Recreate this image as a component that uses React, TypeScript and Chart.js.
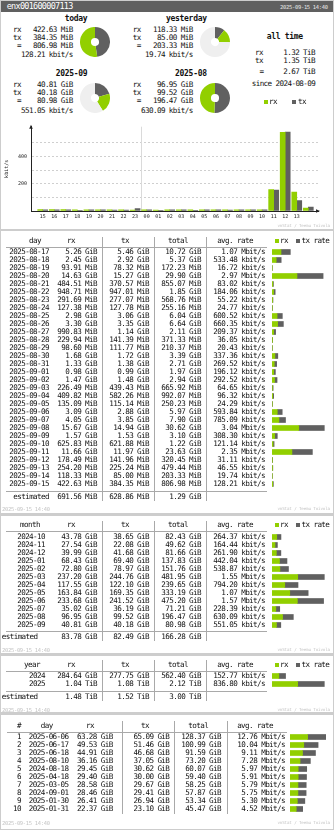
import React, { useEffect, useRef } from 'react';
import { Chart, registerables } from 'chart.js';
Chart.register(...registerables);

const RX_COLOR = '#92cf00';
const TX_COLOR = '#606060';
const REST_COLOR = '#efefef';
const TEXT = '#111111';
const LINE = '#a9a9a9';
const FAINT = '#c4c4c4';
const MONO = '"DejaVu Sans Mono", monospace';

const IFACE_NAME = 'enx001600007113';
const STAMP = '2025-09-15 14:40';
const CREDIT = 'vnStat / Teemu Toivola';

// ---- summary ----
const sumTitles = ['today', 'yesterday', '2025-09', '2025-08'];
const sumRx = ['422.63 MiB', '118.33 MiB', '40.81 GiB', '96.95 GiB'];
const sumTx = ['384.35 MiB', '85.00 MiB', '40.18 GiB', '99.52 GiB'];
const sumTotal = ['806.98 MiB', '203.33 MiB', '80.98 GiB', '196.47 GiB'];
const sumRate = ['128.21 kbit/s', '19.74 kbit/s', '551.05 kbit/s', '630.09 kbit/s'];
const allTimeRx = '1.32 TiB';
const allTimeTx = '1.35 TiB';
const allTimeTotal = '2.67 TiB';
const allTimeSince = '2024-08-09';

// ---- hourly (kbit/s) ----
const hourLabels = ['15', '16', '17', '18', '19', '20', '21', '22', '23', '00', '01', '02', '03', '04', '05', '06', '07', '08', '09', '10', '11', '12', '13', '14'];
const hourRx = [10, 10, 10, 9, 9, 9, 8, 8, 7, 9, 7, 9, 9, 8, 9, 9, 8, 9, 9, 9, 157, 575, 139, 22];
const hourTx = [9, 8, 8, 5, 8, 8, 7, 7, 17, 8, 5, 8, 8, 5, 8, 8, 7, 8, 8, 8, 153, 577, 76, 29];

// ---- daily ----
const dayDates = ['2025-08-17', '2025-08-18', '2025-08-19', '2025-08-20', '2025-08-21', '2025-08-22', '2025-08-23', '2025-08-24', '2025-08-25', '2025-08-26', '2025-08-27', '2025-08-28', '2025-08-29', '2025-08-30', '2025-08-31', '2025-09-01', '2025-09-02', '2025-09-03', '2025-09-04', '2025-09-05', '2025-09-06', '2025-09-07', '2025-09-08', '2025-09-09', '2025-09-10', '2025-09-11', '2025-09-12', '2025-09-13', '2025-09-14', '2025-09-15'];
const dayRx = ['5.26 GiB', '2.45 GiB', '93.91 MiB', '14.63 GiB', '484.51 MiB', '948.71 MiB', '291.69 MiB', '127.38 MiB', '2.98 GiB', '3.30 GiB', '990.83 MiB', '229.94 MiB', '98.60 MiB', '1.68 GiB', '1.33 GiB', '0.98 GiB', '1.47 GiB', '226.49 MiB', '409.82 MiB', '135.09 MiB', '3.09 GiB', '4.05 GiB', '15.67 GiB', '1.57 GiB', '625.83 MiB', '11.66 GiB', '178.49 MiB', '254.20 MiB', '118.33 MiB', '422.63 MiB'];
const dayTx = ['5.46 GiB', '2.92 GiB', '78.32 MiB', '15.27 GiB', '370.57 MiB', '947.01 MiB', '277.07 MiB', '127.78 MiB', '3.06 GiB', '3.35 GiB', '1.14 GiB', '141.39 MiB', '111.77 MiB', '1.72 GiB', '1.38 GiB', '0.99 GiB', '1.48 GiB', '439.43 MiB', '582.26 MiB', '115.14 MiB', '2.88 GiB', '3.85 GiB', '14.94 GiB', '1.53 GiB', '621.88 MiB', '11.97 GiB', '141.96 MiB', '225.24 MiB', '85.00 MiB', '384.35 MiB'];
const dayTotal = ['10.72 GiB', '5.37 GiB', '172.23 MiB', '29.90 GiB', '855.07 MiB', '1.85 GiB', '568.76 MiB', '255.16 MiB', '6.04 GiB', '6.64 GiB', '2.11 GiB', '371.33 MiB', '210.37 MiB', '3.39 GiB', '2.71 GiB', '1.97 GiB', '2.94 GiB', '665.92 MiB', '992.07 MiB', '250.23 MiB', '5.97 GiB', '7.90 GiB', '30.62 GiB', '3.10 GiB', '1.22 GiB', '23.63 GiB', '320.45 MiB', '479.44 MiB', '203.33 MiB', '806.98 MiB'];
const dayRate = ['1.07 Mbit/s', '533.48 kbit/s', '16.72 kbit/s', '2.97 Mbit/s', '83.02 kbit/s', '184.06 kbit/s', '55.22 kbit/s', '24.77 kbit/s', '600.52 kbit/s', '660.35 kbit/s', '209.37 kbit/s', '36.05 kbit/s', '20.43 kbit/s', '337.36 kbit/s', '269.52 kbit/s', '196.12 kbit/s', '292.52 kbit/s', '64.65 kbit/s', '96.32 kbit/s', '24.29 kbit/s', '593.84 kbit/s', '785.09 kbit/s', '3.04 Mbit/s', '308.30 kbit/s', '121.14 kbit/s', '2.35 Mbit/s', '31.11 kbit/s', '46.55 kbit/s', '19.74 kbit/s', '128.21 kbit/s'];
const dayEstimate = ['691.56 MiB', '628.86 MiB', '1.29 GiB'];

// ---- monthly ----
const monthLabels = ['2024-10', '2024-11', '2024-12', '2025-01', '2025-02', '2025-03', '2025-04', '2025-05', '2025-06', '2025-07', '2025-08', '2025-09'];
const monthRx = ['43.78 GiB', '27.54 GiB', '39.99 GiB', '68.43 GiB', '72.80 GiB', '237.20 GiB', '117.55 GiB', '163.84 GiB', '233.68 GiB', '35.02 GiB', '96.95 GiB', '40.81 GiB'];
const monthTx = ['38.65 GiB', '22.08 GiB', '41.68 GiB', '69.40 GiB', '78.97 GiB', '244.76 GiB', '122.10 GiB', '169.35 GiB', '241.52 GiB', '36.19 GiB', '99.52 GiB', '40.18 GiB'];
const monthTotal = ['82.43 GiB', '49.62 GiB', '81.66 GiB', '137.83 GiB', '151.76 GiB', '481.95 GiB', '239.65 GiB', '333.19 GiB', '475.20 GiB', '71.21 GiB', '196.47 GiB', '80.98 GiB'];
const monthRate = ['264.37 kbit/s', '164.44 kbit/s', '261.90 kbit/s', '442.04 kbit/s', '538.87 kbit/s', '1.55 Mbit/s', '794.20 kbit/s', '1.07 Mbit/s', '1.57 Mbit/s', '228.39 kbit/s', '630.09 kbit/s', '551.05 kbit/s'];
const monthEstimate = ['83.78 GiB', '82.49 GiB', '166.28 GiB'];

// ---- yearly ----
const yearLabels = ['2024', '2025'];
const yearRx = ['284.64 GiB', '1.04 TiB'];
const yearTx = ['277.75 GiB', '1.08 TiB'];
const yearTotal = ['562.40 GiB', '2.12 TiB'];
const yearRate = ['152.77 kbit/s', '836.80 kbit/s'];
const yearEstimate = ['1.48 TiB', '1.52 TiB', '3.00 TiB'];

// ---- top 10 ----
const topRank = ['1', '2', '3', '4', '5', '6', '7', '8', '9', '10'];
const topDays = ['2025-06-06', '2025-06-17', '2025-06-18', '2025-08-10', '2024-08-18', '2025-04-18', '2025-03-05', '2024-09-01', '2025-01-30', '2025-01-31'];
const topRx = ['63.28 GiB', '49.53 GiB', '44.91 GiB', '36.16 GiB', '29.45 GiB', '29.40 GiB', '28.58 GiB', '28.46 GiB', '26.41 GiB', '22.37 GiB'];
const topTx = ['65.09 GiB', '51.46 GiB', '46.68 GiB', '37.05 GiB', '30.62 GiB', '30.00 GiB', '29.67 GiB', '29.41 GiB', '26.94 GiB', '23.10 GiB'];
const topTotal = ['128.37 GiB', '100.99 GiB', '91.59 GiB', '73.20 GiB', '60.07 GiB', '59.40 GiB', '58.25 GiB', '57.87 GiB', '53.34 GiB', '45.47 GiB'];
const topRate = ['12.76 Mbit/s', '10.04 Mbit/s', '9.11 Mbit/s', '7.28 Mbit/s', '5.97 Mbit/s', '5.91 Mbit/s', '5.79 Mbit/s', '5.75 Mbit/s', '5.30 Mbit/s', '4.52 Mbit/s'];

const UNIT: Record<string, number> = { KiB: 1 / 1024, MiB: 1, GiB: 1024, TiB: 1024 * 1024 };
const toMiB = (s: string) => {
  const [n, u] = s.split(' ');
  return parseFloat(n) * (UNIT[u] || 1);
};

const FONTS: Record<string, React.CSSProperties> = {
  body: { fontFamily: MONO, fontSize: '7.6px', letterSpacing: '-0.6px', fontWeight: 400 },
  bold: { fontFamily: MONO, fontSize: '8px', letterSpacing: '-0.3px', fontWeight: 700 },
  head: { fontFamily: MONO, fontSize: '8.5px', letterSpacing: '-0.72px', fontWeight: 400 },
  small: { fontFamily: MONO, fontSize: '5.4px', letterSpacing: '-0.27px', fontWeight: 400 },
  tiny: { fontFamily: MONO, fontSize: '4.2px', letterSpacing: '-0.13px', fontWeight: 400 },
};

function Txt(p: { x: number; y: number; s: string; a?: 'l' | 'r' | 'c'; f?: string; c?: string }) {
  const a = p.a || 'l';
  const tr = a === 'r' ? 'translateX(-100%)' : a === 'c' ? 'translateX(-50%)' : 'none';
  return (
    <div
      style={{
        position: 'absolute', left: p.x, top: p.y - 5, height: 10, lineHeight: '10px',
        whiteSpace: 'pre', color: p.c || TEXT, transform: tr, ...FONTS[p.f || 'body'],
      }}
    >
      {p.s}
    </div>
  );
}

function Rect(p: { x: number; y: number; w: number; h: number; bg: string }) {
  return <div style={{ position: 'absolute', left: p.x, top: p.y, width: p.w, height: p.h, background: p.bg }} />;
}

function Pie(p: { cx: number; cy: number; r: number; rx: number; tx: number; rest: number }) {
  const ref = useRef<HTMLCanvasElement>(null);
  useEffect(() => {
    const ch = new Chart(ref.current as HTMLCanvasElement, {
      type: 'doughnut',
      data: {
        labels: ['tx', 'rx', 'rest'],
        datasets: [{
          data: [p.tx, p.rx, Math.max(p.rest, 0)],
          backgroundColor: [TX_COLOR, RX_COLOR, REST_COLOR],
          borderWidth: 0, hoverOffset: 0,
        }],
      },
      options: {
        responsive: false, animation: false, devicePixelRatio: 1, events: [],
        cutout: '27%',
        layout: { padding: 0 },
        plugins: { legend: { display: false }, tooltip: { enabled: false } },
      },
    });
    return () => ch.destroy();
  }, []);
  const d = p.r * 2;
  return <canvas ref={ref} width={d} height={d} style={{ position: 'absolute', left: p.cx - p.r, top: p.cy - p.r, width: d, height: d }} />;
}

const hourDecor = {
  id: 'hourDecor',
  beforeDatasetsDraw(chart: any) {
    const { ctx, chartArea, scales } = chart;
    const idx = hourLabels.indexOf('00');
    const px = Math.round(scales.x.getPixelForValue(idx - 0.5)) + 0.5;
    ctx.save();
    ctx.strokeStyle = '#dadada';
    ctx.lineWidth = 1;
    ctx.beginPath();
    ctx.moveTo(px, chartArea.top);
    ctx.lineTo(px, chartArea.bottom);
    ctx.stroke();
    ctx.restore();
  },
  afterDraw(chart: any) {
    const { ctx, chartArea } = chart;
    ctx.save();
    ctx.fillStyle = '#222';
    const l = chartArea.left, t = chartArea.top, r = chartArea.right, b = chartArea.bottom;
    ctx.beginPath();
    ctx.moveTo(l, t - 2); ctx.lineTo(l - 1.8, t + 2); ctx.lineTo(l + 1.8, t + 2); ctx.closePath(); ctx.fill();
    ctx.beginPath();
    ctx.moveTo(r + 2, b); ctx.lineTo(r - 2, b - 1.8); ctx.lineTo(r - 2, b + 1.8); ctx.closePath(); ctx.fill();
    ctx.restore();
  },
};

function HourlyChart(p: { x: number; y: number; w: number; h: number }) {
  const ref = useRef<HTMLCanvasElement>(null);
  useEffect(() => {
    const tickFont = { family: 'DejaVu Sans Mono', size: 5 };
    const ch = new Chart(ref.current as HTMLCanvasElement, {
      type: 'bar',
      data: {
        datasets: [
          { label: 'rx', data: hourRx.map((v, i) => ({ x: i, y: v })), backgroundColor: RX_COLOR, barThickness: 5 } as any,
          { label: 'tx', data: hourTx.map((v, i) => ({ x: i, y: v })), backgroundColor: TX_COLOR, barThickness: 5 } as any,
        ],
      },
      options: {
        responsive: false, animation: false, devicePixelRatio: 1, events: [],
        layout: { padding: { top: 8.7, right: 16, left: 0, bottom: 0 } },
        plugins: { legend: { display: false }, tooltip: { enabled: false } },
        scales: {
          x: {
            type: 'linear', min: -1.013, max: 23.84, offset: false,
            grid: { display: false, drawTicks: false },
            border: { color: '#222', width: 1 },
            ticks: {
              stepSize: 1, autoSkip: false, maxRotation: 0, padding: 3, color: '#222', font: tickFont,
              callback: (v: any) => (Number.isInteger(v) && v >= 0 && v < hourLabels.length ? hourLabels[v] : ''),
            },
            afterFit: (s: any) => { s.height = 14; },
          },
          y: {
            type: 'linear', min: 0, max: 617,
            grid: {
              drawTicks: false,
              color: (c: any) => (c.tick && c.tick.value > 0 && c.tick.value < 600 ? '#cfcfcf' : 'rgba(0,0,0,0)'),
            },
            border: { color: '#222', width: 1, dash: [2, 2] },
            ticks: {
              stepSize: 100, padding: 4, color: '#222', font: tickFont,
              callback: (v: any) => (v > 0 && v < 600 && v % 200 === 0 ? String(v) : ''),
            },
            title: { display: true, text: 'kbit/s', color: '#222', font: tickFont, padding: { top: 4, bottom: 0 } },
            afterFit: (s: any) => { s.width = 31; },
          },
        },
      } as any,
      plugins: [hourDecor],
    });
    return () => ch.destroy();
  }, []);
  return <canvas ref={ref} width={p.w} height={p.h} style={{ position: 'absolute', left: p.x, top: p.y, width: p.w, height: p.h }} />;
}

function RateBars(p: { x: number; y: number; w: number; step: number; full: number; labels: string[]; rx: string[]; tx: string[] }) {
  const ref = useRef<HTMLCanvasElement>(null);
  const h = p.labels.length * p.step;
  useEffect(() => {
    const rx = p.rx.map(toMiB);
    const tx = p.tx.map(toMiB);
    const maxTotal = Math.max(...rx.map((v, i) => v + tx[i]));
    const ch = new Chart(ref.current as HTMLCanvasElement, {
      type: 'bar',
      data: {
        labels: p.labels,
        datasets: [
          { label: 'rx', data: rx, backgroundColor: RX_COLOR, barThickness: 5 } as any,
          { label: 'tx', data: tx, backgroundColor: TX_COLOR, barThickness: 5 } as any,
        ],
      },
      options: {
        indexAxis: 'y',
        responsive: false, animation: false, devicePixelRatio: 1, events: [],
        layout: { padding: 0 },
        plugins: { legend: { display: false }, tooltip: { enabled: false } },
        scales: {
          x: { type: 'linear', stacked: true, display: false, min: 0, max: (maxTotal * p.w) / p.full },
          y: { type: 'category', stacked: true, display: false, offset: true },
        },
      } as any,
    });
    return () => ch.destroy();
  }, []);
  return <canvas ref={ref} width={p.w} height={h} style={{ position: 'absolute', left: p.x, top: p.y, width: p.w, height: h }} />;
}

type Col = { title: string; titleX: number; right: number; values: string[]; est?: string };
type TableCfg = {
  key: string;
  headY: number; lineY: number; row0: number; step: number;
  cols: Col[]; seps: number[]; sepTop: number; sepBottom: number;
  lineX0: number; lineX1: number;
  est?: { lineY: number; y: number; labelRight: number };
  legendY?: number;
  bar: { x: number; w: number; full: number; rx: string[]; tx: string[] };
};

function Table({ cfg }: { cfg: TableCfg }) {
  const out: React.ReactNode[] = [];
  cfg.seps.forEach((sx, i) => out.push(<Rect key={'s' + i} x={sx} y={cfg.sepTop} w={1} h={cfg.sepBottom - cfg.sepTop} bg={LINE} />));
  out.push(<Rect key="ul" x={cfg.lineX0} y={cfg.lineY} w={cfg.lineX1 - cfg.lineX0} h={1} bg={LINE} />);
  if (cfg.est) out.push(<Rect key="el" x={cfg.lineX0} y={cfg.est.lineY} w={cfg.lineX1 - cfg.lineX0} h={1} bg={LINE} />);
  cfg.cols.forEach((c, ci) => {
    out.push(<Txt key={'h' + ci} x={c.titleX} y={cfg.headY} s={c.title} a="c" />);
    c.values.forEach((v, ri) => out.push(<Txt key={'v' + ci + '_' + ri} x={c.right} y={cfg.row0 + ri * cfg.step} s={v} a="r" />));
    if (cfg.est && c.est) out.push(<Txt key={'e' + ci} x={c.right} y={cfg.est.y} s={c.est} a="r" />);
  });
  if (cfg.est) out.push(<Txt key="elab" x={cfg.est.labelRight} y={cfg.est.y} s="estimated" a="r" />);
  if (cfg.legendY !== undefined) {
    const ly = cfg.legendY;
    out.push(<Rect key="lg1" x={275} y={ly - 2} w={4} h={4} bg={RX_COLOR} />);
    out.push(<Txt key="lt1" x={280} y={ly} s="rx" />);
    out.push(<Rect key="lg2" x={295.5} y={ly - 2} w={4} h={4} bg={TX_COLOR} />);
    out.push(<Txt key="lt2" x={301.5} y={ly} s="tx rate" />);
  }
  out.push(
    <RateBars key="bars" x={cfg.bar.x} y={cfg.row0 - cfg.step / 2} w={cfg.bar.w} step={cfg.step} full={cfg.bar.full}
      labels={cfg.cols[0].values} rx={cfg.bar.rx} tx={cfg.bar.tx} />,
  );
  return <>{out}</>;
}

const STD_SEPS = [101.5, 153.5, 205.5];
const stdCols = (label: string, labelX: number, labelRight: number, labels: string[], rx: string[], tx: string[], tot: string[], rate: string[], est?: string[]): Col[] => [
  { title: label, titleX: labelX, right: labelRight, values: labels },
  { title: 'rx', titleX: 71, right: 97, values: rx, est: est ? est[0] : undefined },
  { title: 'tx', titleX: 125, right: 149, values: tx, est: est ? est[1] : undefined },
  { title: 'total', titleX: 178, right: 201, values: tot, est: est ? est[2] : undefined },
  { title: 'avg. rate', titleX: 235, right: 265, values: rate },
];

const dailyCfg: TableCfg = {
  key: 'd', headY: 240.7, lineY: 246.5, row0: 252.3, step: 8,
  cols: stdCols('day', 35, 49, dayDates, dayRx, dayTx, dayTotal, dayRate, dayEstimate),
  seps: STD_SEPS, sepTop: 237, sepBottom: 501, lineX0: 6, lineX1: 267,
  est: { lineY: 490.5, y: 497.3, labelRight: 49 },
  legendY: 240.7,
  bar: { x: 272, w: 60, full: 52.3, rx: dayRx, tx: dayTx },
};

const monthlyCfg: TableCfg = {
  key: 'm', headY: 525, lineY: 530.5, row0: 537, step: 8,
  cols: stdCols('month', 30, 45, monthLabels, monthRx, monthTx, monthTotal, monthRate, monthEstimate),
  seps: STD_SEPS, sepTop: 521, sepBottom: 641, lineX0: 6, lineX1: 267,
  est: { lineY: 630.5, y: 636.7, labelRight: 37.5 },
  legendY: 525,
  bar: { x: 272, w: 60, full: 52.3, rx: monthRx, tx: monthTx },
};

const yearlyCfg: TableCfg = {
  key: 'y', headY: 665, lineY: 670.5, row0: 676.3, step: 8,
  cols: stdCols('year', 32, 45, yearLabels, yearRx, yearTx, yearTotal, yearRate, yearEstimate),
  seps: STD_SEPS, sepTop: 660, sepBottom: 701, lineX0: 6, lineX1: 267,
  est: { lineY: 690.5, y: 697.3, labelRight: 37.5 },
  legendY: 665,
  bar: { x: 272, w: 60, full: 52.3, rx: yearRx, tx: yearTx },
};

const topCfg: TableCfg = {
  key: 't', headY: 725.7, lineY: 731.5, row0: 737.3, step: 8,
  cols: [
    { title: '#', titleX: 19, right: 21, values: topRank },
    { title: 'day', titleX: 46.7, right: 68.5, values: topDays },
    { title: 'rx', titleX: 90, right: 112.7, values: topRx },
    { title: 'tx', titleX: 145, right: 169.3, values: topTx },
    { title: 'total', titleX: 198.3, right: 221, values: topTotal },
    { title: 'avg. rate', titleX: 255, right: 285, values: topRate },
  ],
  seps: [121.5, 174, 226.5], sepTop: 721, sepBottom: 813.5, lineX0: 6.5, lineX1: 287,
  bar: { x: 290, w: 42, full: 35.7, rx: topRx, tx: topTx },
};

function Footer({ y, stamp }: { y: number; stamp: boolean }) {
  return (
    <>
      {stamp && <Txt x={2} y={y} s={STAMP} f="small" c={FAINT} />}
      <Txt x={330} y={y} s={CREDIT} a="r" f="tiny" c={FAINT} />
    </>
  );
}

function Summary() {
  const blocks = [
    { labelX: 13, valR: 72.7, titleR: 87.3, titleY: 19, rows: [30, 37.7, 45.7, 55] },
    { labelX: 132.7, valR: 192.7, titleR: 206.7, titleY: 19, rows: [30, 37.7, 45.7, 55] },
    { labelX: 13, valR: 72.7, titleR: 87.3, titleY: 74, rows: [85, 92.7, 100.7, 110.7] },
    { labelX: 132.7, valR: 192.7, titleR: 206.7, titleY: 74, rows: [85, 92.7, 100.7, 110.7] },
  ];
  const pies = [
    { cx: 95, cy: 42.3 }, { cx: 215, cy: 42.3 }, { cx: 95, cy: 98.3 }, { cx: 215, cy: 98.3 },
  ];
  const totals = sumRx.map((v, i) => toMiB(v) + toMiB(sumTx[i]));
  const out: React.ReactNode[] = [];
  blocks.forEach((b, i) => {
    out.push(<Txt key={'t' + i} x={b.titleR} y={b.titleY} s={sumTitles[i]} a="r" f="bold" />);
    out.push(<Txt key={'rl' + i} x={b.labelX} y={b.rows[0]} s="rx" />);
    out.push(<Txt key={'tl' + i} x={b.labelX} y={b.rows[1]} s="tx" />);
    out.push(<Txt key={'el' + i} x={b.labelX + 4} y={b.rows[2]} s="=" />);
    out.push(<Txt key={'rv' + i} x={b.valR} y={b.rows[0]} s={sumRx[i]} a="r" />);
    out.push(<Txt key={'tv' + i} x={b.valR} y={b.rows[1]} s={sumTx[i]} a="r" />);
    out.push(<Txt key={'ev' + i} x={b.valR} y={b.rows[2]} s={sumTotal[i]} a="r" />);
    out.push(<Txt key={'ra' + i} x={b.valR} y={b.rows[3]} s={sumRate[i]} a="r" />);
    const pairMax = Math.max(totals[i - (i % 2)], totals[i - (i % 2) + 1]);
    out.push(<Pie key={'p' + i} cx={pies[i].cx} cy={pies[i].cy} r={15} rx={toMiB(sumRx[i])} tx={toMiB(sumTx[i])} rest={pairMax - totals[i]} />);
  });
  // all time
  out.push(<Txt key="at" x={266.7} y={37.3} s="all time" f="bold" />);
  out.push(<Txt key="atr" x={255} y={53.3} s="rx" />);
  out.push(<Txt key="atrv" x={315} y={53.3} s={allTimeRx} a="r" />);
  out.push(<Txt key="att" x={255} y={61} s="tx" />);
  out.push(<Txt key="attv" x={315} y={61} s={allTimeTx} a="r" />);
  out.push(<Txt key="ate" x={259.5} y={71.7} s="=" />);
  out.push(<Txt key="atev" x={315} y={71.7} s={allTimeTotal} a="r" />);
  out.push(<Txt key="ats" x={251.7} y={84.3} s={'since ' + allTimeSince} />);
  out.push(<Rect key="lg1" x={264} y={99.7} w={4} h={4} bg={RX_COLOR} />);
  out.push(<Txt key="lgt1" x={269} y={101.7} s="rx" />);
  out.push(<Rect key="lg2" x={291.5} y={99.7} w={4} h={4} bg={TX_COLOR} />);
  out.push(<Txt key="lgt2" x={298} y={101.7} s="tx" />);
  return <>{out}</>;
}

export default function App() {
  return (
    <div style={{ position: 'absolute', left: 0, top: 0, width: 334, height: 830, background: '#cdcdcd', overflow: 'hidden' }}>
      {/* section boxes */}
      <Rect x={1} y={1} w={332} h={227.5} bg="#ffffff" />
      <Rect x={1} y={230.5} w={332} h={282} bg="#ffffff" />
      <Rect x={1} y={516} w={332} h={137} bg="#ffffff" />
      <Rect x={1} y={655.5} w={332} h={56.5} bg="#ffffff" />
      <Rect x={1} y={715} w={332} h={113.5} bg="#ffffff" />

      {/* header */}
      <Rect x={1} y={1} w={332} h={10.5} bg={TX_COLOR} />
      <Txt x={6.7} y={6.3} s={IFACE_NAME} f="head" c="#ffffff" />
      <Txt x={327.7} y={6.5} s={STAMP} a="r" f="small" c="#e8e8e8" />

      <Summary />
      <HourlyChart x={0} y={118} w={334} h={107} />
      <Footer y={225.5} stamp={false} />

      <Table cfg={dailyCfg} />
      <Footer y={509.3} stamp={true} />

      <Table cfg={monthlyCfg} />
      <Footer y={650} stamp={true} />

      <Table cfg={yearlyCfg} />
      <Footer y={709.7} stamp={true} />

      <Table cfg={topCfg} />
      <Footer y={823.3} stamp={true} />
    </div>
  );
}
